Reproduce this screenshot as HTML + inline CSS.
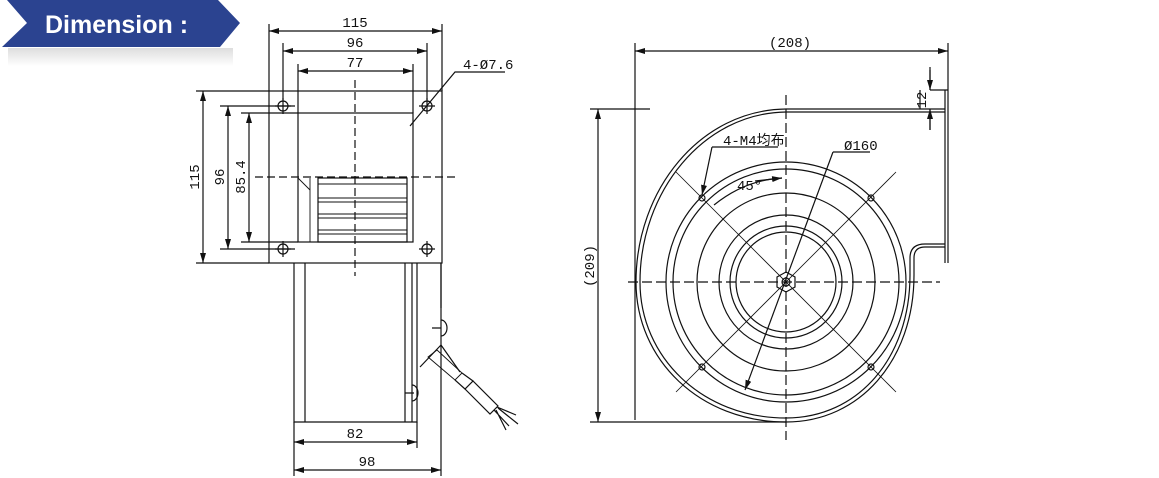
<!DOCTYPE html>
<html><head><meta charset="utf-8"><style>
html,body{margin:0;padding:0;background:#fff;}
svg{display:block}
text{font-family:"Liberation Mono","Noto Sans CJK SC",monospace;fill:#111;}
</style></head><body>
<svg width="1159" height="478" viewBox="0 0 1159 478" xmlns="http://www.w3.org/2000/svg">
<defs>
<linearGradient id="sh" x1="0" y1="0" x2="0" y2="1"><stop offset="0" stop-color="#ddd"/><stop offset="1" stop-color="#fff"/></linearGradient>
<marker id="a" viewBox="0 0 10 6" refX="10" refY="3" markerWidth="10" markerHeight="6" orient="auto-start-reverse" markerUnits="userSpaceOnUse"><path d="M0,0 L10,3 L0,6 z" fill="#111"/></marker>
</defs>
<rect x="8" y="48" width="225" height="18" fill="url(#sh)"/>
<polygon points="7,0 218,0 240,23 220,47 2,47 27,23" fill="#2b4390"/>
<text x="45" y="33" style="font-family:'Liberation Sans',sans-serif;font-weight:bold;font-size:25px;fill:#fff">Dimension :</text>

<g stroke="#111" stroke-width="1.2" fill="none">
<!-- LEFT VIEW -->
<rect x="269" y="91" width="173" height="172"/>
<rect x="298" y="113" width="115" height="129"/>
<rect x="318" y="178" width="89" height="64"/>
<g stroke-width="0.9">
<line x1="318" y1="184" x2="407" y2="184"/><line x1="318" y1="198" x2="407" y2="198"/><line x1="318" y1="202" x2="407" y2="202"/><line x1="318" y1="214" x2="407" y2="214"/><line x1="318" y1="218" x2="407" y2="218"/><line x1="318" y1="230" x2="407" y2="230"/><line x1="318" y1="234" x2="407" y2="234"/>
<line x1="310" y1="178" x2="310" y2="242"/><line x1="298" y1="178" x2="310" y2="190"/>
</g>
<g>
<circle cx="283" cy="106" r="5"/><circle cx="427" cy="106" r="5"/><circle cx="283" cy="249" r="5"/><circle cx="427" cy="249" r="5"/>
<path d="M275,106h16M283,98v16M419,106h16M427,98v16M275,249h16M283,241v16M419,249h16M427,241v16"/>
</g>
<line x1="355" y1="80" x2="355" y2="276" stroke-dasharray="8,4"/>
<line x1="255" y1="177" x2="456" y2="177" stroke-dasharray="8,4"/>
<!-- motor -->
<path d="M294,263V422H417V263M305,263V422M405,263V422M412,263V422M441,263V450M417,422h-2"/>
<path d="M441,263v45M441,320 a6,8 0 0 1 0,16M432,328h9M412,385a6,8 0 0 1 0,16M405,393h9"/>
<path d="M441,345 L420,367M441,345 L460,372"/>
<path d="M428,357 L455,380 L462,373 L437,350z" stroke-width="0.9"/>
<path d="M455,380 L465,389 L473,381 L462,373"/>
<path d="M465,389 L490,414 L498,406 L473,381"/>
<path d="M494,410 l15,16 M496,410 l10,20 M498,408 l20,16 M497,407 l19,8"/>
<!-- top dims -->
<path d="M269,24V91M442,24V91M283,43V100M427,43V100M298,64V113M413,64V113"/>
<line x1="269" y1="31" x2="442" y2="31" marker-start="url(#a)" marker-end="url(#a)"/>
<line x1="283" y1="51" x2="427" y2="51" marker-start="url(#a)" marker-end="url(#a)"/>
<line x1="298" y1="71" x2="413" y2="71" marker-start="url(#a)" marker-end="url(#a)"/>
<path d="M410,126 L455,72 H505"/>
<!-- left dims -->
<path d="M196,91H269M220,106H295M241,113H298M196,263H269M220,249H295M241,242H298"/>
<line x1="203" y1="91" x2="203" y2="263" marker-start="url(#a)" marker-end="url(#a)"/>
<line x1="228" y1="106" x2="228" y2="249" marker-start="url(#a)" marker-end="url(#a)"/>
<line x1="249" y1="113" x2="249" y2="242" marker-start="url(#a)" marker-end="url(#a)"/>
<!-- bottom dims -->
<path d="M294,422V476M441,450V476M417,422V448"/>
<line x1="294" y1="442" x2="417" y2="442" marker-start="url(#a)" marker-end="url(#a)"/>
<line x1="294" y1="470" x2="441" y2="470" marker-start="url(#a)" marker-end="url(#a)"/>

<!-- RIGHT VIEW -->
<path d="M786,109 C700,110 636,190 636,282 C636,360 700,422 786,422 C860,422 914,360 914,275 V258 Q914,247 925,247 H945"/>
<path d="M786,112 C703,113 640,192 640,282 C640,357 702,418 786,418 C858,418 910,358 910,275 V258 Q910,244 925,244 H945"/>
<path d="M786,109 H945 M786,112 H945 M945,90 V263 M948,90 V263"/>
<circle cx="786" cy="282" r="120"/>
<circle cx="786" cy="282" r="113"/>
<circle cx="786" cy="282" r="89"/>
<circle cx="786" cy="282" r="67"/>
<circle cx="786" cy="282" r="56"/>
<circle cx="786" cy="282" r="50"/>
<polygon points="786,272 795,277 795,287 786,292 777,287 777,277"/>
<circle cx="786" cy="282" r="4"/>
<line x1="786" y1="95" x2="786" y2="440" stroke-dasharray="10,4"/>
<line x1="628" y1="282" x2="940" y2="282" stroke-dasharray="10,4"/>
<path d="M676,172 L896,392 M896,172 L676,392" stroke-width="0.8"/>
<g><circle cx="702" cy="198" r="3"/><circle cx="871" cy="198" r="3"/><circle cx="702" cy="367" r="3"/><circle cx="871" cy="367" r="3"/></g>
<path d="M712,147 H778" /><line x1="712" y1="147" x2="702" y2="195" marker-end="url(#a)"/>
<path d="M833,152 H870"/><line x1="833" y1="152" x2="745" y2="390" marker-end="url(#a)"/>
<path d="M714,205 Q745,180 782,178" /><line x1="755" y1="181" x2="782" y2="178" marker-end="url(#a)"/>
<!-- dims right view -->
<path d="M635,43V420M948,43V90M590,109H650M590,422H786"/>
<line x1="635" y1="51" x2="948" y2="51" marker-start="url(#a)" marker-end="url(#a)"/>
<line x1="598" y1="109" x2="598" y2="422" marker-start="url(#a)" marker-end="url(#a)"/>
<path d="M930,90H948M930,67V90M930,109V130M920,90V109"/>
<line x1="930" y1="70" x2="930" y2="90" marker-end="url(#a)"/>
<line x1="930" y1="130" x2="930" y2="109" marker-end="url(#a)"/>
</g>

<g font-size="14">
<text x="355" y="27" text-anchor="middle">115</text>
<text x="355" y="47" text-anchor="middle">96</text>
<text x="355" y="67" text-anchor="middle">77</text>
<text x="463" y="69">4-Ø7.6</text>
<text transform="translate(199,177) rotate(-90)" text-anchor="middle">115</text>
<text transform="translate(224,177) rotate(-90)" text-anchor="middle">96</text>
<text transform="translate(245,177) rotate(-90)" text-anchor="middle">85.4</text>
<text x="355" y="438" text-anchor="middle">82</text>
<text x="367" y="466" text-anchor="middle">98</text>
<text x="790" y="47" text-anchor="middle">(208)</text>
<text transform="translate(594,266) rotate(-90)" text-anchor="middle">(209)</text>
<text transform="translate(926,100) rotate(-90)" text-anchor="middle">12</text>
<text x="723" y="145">4-M4均布</text>
<text x="844" y="150">Ø160</text>
<text x="737" y="190">45°</text>
</g>
</svg>
</body></html>
